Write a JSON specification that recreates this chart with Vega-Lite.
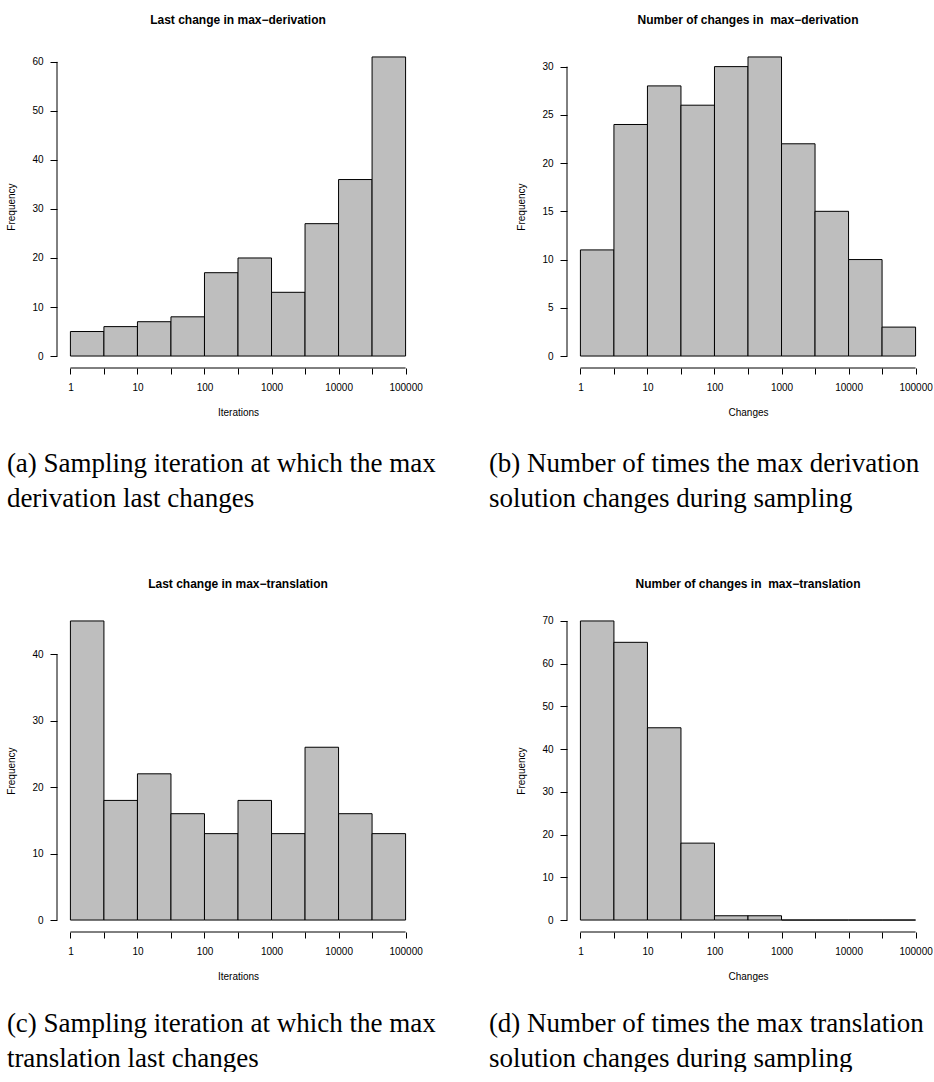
{
  "$schema": "https://vega.github.io/schema/vega-lite/v6.json",
  "background": "white",
  "padding": {"left": 6, "top": 14, "right": 0, "bottom": 0},
  "autosize": {"type": "pad"},
  "config": {
    "view": {"stroke": null},
    "font": "Liberation Sans",
    "axis": {
      "domain": false, "grid": false, "tickColor": "#000", "tickWidth": 1,
      "labelColor": "#000", "labelFont": "Liberation Sans", "labelFontSize": 10,
      "labelFlush": false, "labelOverlap": false,
      "titleColor": "#000", "titleFont": "Liberation Sans", "titleFontSize": 10, "titleFontWeight": "normal"
    },
    "axisX": {"tickSize": 6, "labelPadding": 8, "titlePadding": 15, "labelAngle": 0},
    "axisY": {"tickSize": 7, "labelPadding": 7, "titlePadding": 15, "labelAngle": 0},
    "title": {"font": "Liberation Sans", "fontSize": 12, "fontWeight": "bold", "color": "#000", "offset": 18, "anchor": "middle"}
  },
  "datasets": {
    "bins": [
      {"panel": "a", "lo": 1, "hi": 3.1623, "count": 5},
      {"panel": "a", "lo": 3.1623, "hi": 10, "count": 6},
      {"panel": "a", "lo": 10, "hi": 31.623, "count": 7},
      {"panel": "a", "lo": 31.623, "hi": 100, "count": 8},
      {"panel": "a", "lo": 100, "hi": 316.23, "count": 17},
      {"panel": "a", "lo": 316.23, "hi": 1000, "count": 20},
      {"panel": "a", "lo": 1000, "hi": 3162.3, "count": 13},
      {"panel": "a", "lo": 3162.3, "hi": 10000, "count": 27},
      {"panel": "a", "lo": 10000, "hi": 31623, "count": 36},
      {"panel": "a", "lo": 31623, "hi": 100000, "count": 61},
      {"panel": "b", "lo": 1, "hi": 3.1623, "count": 11},
      {"panel": "b", "lo": 3.1623, "hi": 10, "count": 24},
      {"panel": "b", "lo": 10, "hi": 31.623, "count": 28},
      {"panel": "b", "lo": 31.623, "hi": 100, "count": 26},
      {"panel": "b", "lo": 100, "hi": 316.23, "count": 30},
      {"panel": "b", "lo": 316.23, "hi": 1000, "count": 31},
      {"panel": "b", "lo": 1000, "hi": 3162.3, "count": 22},
      {"panel": "b", "lo": 3162.3, "hi": 10000, "count": 15},
      {"panel": "b", "lo": 10000, "hi": 31623, "count": 10},
      {"panel": "b", "lo": 31623, "hi": 100000, "count": 3},
      {"panel": "c", "lo": 1, "hi": 3.1623, "count": 45},
      {"panel": "c", "lo": 3.1623, "hi": 10, "count": 18},
      {"panel": "c", "lo": 10, "hi": 31.623, "count": 22},
      {"panel": "c", "lo": 31.623, "hi": 100, "count": 16},
      {"panel": "c", "lo": 100, "hi": 316.23, "count": 13},
      {"panel": "c", "lo": 316.23, "hi": 1000, "count": 18},
      {"panel": "c", "lo": 1000, "hi": 3162.3, "count": 13},
      {"panel": "c", "lo": 3162.3, "hi": 10000, "count": 26},
      {"panel": "c", "lo": 10000, "hi": 31623, "count": 16},
      {"panel": "c", "lo": 31623, "hi": 100000, "count": 13},
      {"panel": "d", "lo": 1, "hi": 3.1623, "count": 70},
      {"panel": "d", "lo": 3.1623, "hi": 10, "count": 65},
      {"panel": "d", "lo": 10, "hi": 31.623, "count": 45},
      {"panel": "d", "lo": 31.623, "hi": 100, "count": 18},
      {"panel": "d", "lo": 100, "hi": 316.23, "count": 1},
      {"panel": "d", "lo": 316.23, "hi": 1000, "count": 1},
      {"panel": "d", "lo": 1000, "hi": 3162.3, "count": 0},
      {"panel": "d", "lo": 3162.3, "hi": 10000, "count": 0},
      {"panel": "d", "lo": 10000, "hi": 31623, "count": 0},
      {"panel": "d", "lo": 31623, "hi": 100000, "count": 0}
    ],
    "one": [{}]
  },
  "vconcat": [
    {
      "hconcat": [
        {
          "title": {"text": ["(a) Sampling iteration at which the max", "derivation last changes"], "orient": "bottom", "anchor": "start", "frame": "bounds", "baseline": "top", "font": "Liberation Serif", "fontSize": 27, "fontWeight": "normal", "lineHeight": 35, "offset": 34, "color": "#000"},
          "vconcat": [
            {
              "width": 362, "height": 323,
              "title": "Last change in max−derivation",
              "layer": [
                {
                  "data": {"name": "bins"},
                  "transform": [{"filter": "datum.panel === 'a'"}],
                  "mark": {"type": "rect", "fill": "#bebebe", "stroke": "#000", "strokeWidth": 1},
                  "encoding": {
                    "x": {"field": "lo", "type": "quantitative", "scale": {"type": "log", "domain": [0.630957, 158489.3], "nice": false},
                      "axis": {"values": [1, 3.1623, 10, 31.623, 100, 316.23, 1000, 3162.3, 10000, 31623, 100000], "format": "d",
                        "labelExpr": "indexof([1,10,100,1000,10000,100000], datum.value) >= 0 ? datum.label : ''", "title": "Iterations"}},
                    "x2": {"field": "hi"},
                    "y": {"field": "count", "type": "quantitative", "scale": {"domain": [-2.44, 63.44], "nice": false, "zero": false},
                      "axis": {"values": [0, 10, 20, 30, 40, 50, 60], "title": "Frequency"}},
                    "y2": {"datum": 0}
                  }
                },
                {
                  "data": {"name": "one"},
                  "mark": {"type": "rule", "color": "#000", "strokeWidth": 1},
                  "encoding": {
                    "x": {"datum": 0.630957, "type": "quantitative"},
                    "y": {"datum": 0, "type": "quantitative"},
                    "y2": {"datum": 60}
                  }
                },
                {
                  "data": {"name": "one"},
                  "mark": {"type": "rule", "color": "#000", "strokeWidth": 1},
                  "encoding": {
                    "x": {"datum": 1, "type": "quantitative"},
                    "x2": {"datum": 100000},
                    "y": {"datum": -2.44, "type": "quantitative"}
                  }
                }
              ]
            }
          ]
        },
        {
          "title": {"text": ["(b) Number of times the max derivation", "solution changes during sampling"], "orient": "bottom", "anchor": "start", "frame": "bounds", "baseline": "top", "font": "Liberation Serif", "fontSize": 27, "fontWeight": "normal", "lineHeight": 35, "offset": 34, "dx": -28, "color": "#000"},
          "vconcat": [
            {
              "width": 362, "height": 323,
              "title": "Number of changes in \u00a0max−derivation",
              "layer": [
                {
                  "data": {"name": "bins"},
                  "transform": [{"filter": "datum.panel === 'b'"}],
                  "mark": {"type": "rect", "fill": "#bebebe", "stroke": "#000", "strokeWidth": 1},
                  "encoding": {
                    "x": {"field": "lo", "type": "quantitative", "scale": {"type": "log", "domain": [0.630957, 158489.3], "nice": false},
                      "axis": {"values": [1, 3.1623, 10, 31.623, 100, 316.23, 1000, 3162.3, 10000, 31623, 100000], "format": "d",
                        "labelExpr": "indexof([1,10,100,1000,10000,100000], datum.value) >= 0 ? datum.label : ''", "title": "Changes"}},
                    "x2": {"field": "hi"},
                    "y": {"field": "count", "type": "quantitative", "scale": {"domain": [-1.24, 32.24], "nice": false, "zero": false},
                      "axis": {"values": [0, 5, 10, 15, 20, 25, 30], "title": "Frequency"}},
                    "y2": {"datum": 0}
                  }
                },
                {
                  "data": {"name": "one"},
                  "mark": {"type": "rule", "color": "#000", "strokeWidth": 1},
                  "encoding": {
                    "x": {"datum": 0.630957, "type": "quantitative"},
                    "y": {"datum": 0, "type": "quantitative"},
                    "y2": {"datum": 30}
                  }
                },
                {
                  "data": {"name": "one"},
                  "mark": {"type": "rule", "color": "#000", "strokeWidth": 1},
                  "encoding": {
                    "x": {"datum": 1, "type": "quantitative"},
                    "x2": {"datum": 100000},
                    "y": {"datum": -1.24, "type": "quantitative"}
                  }
                }
              ]
            }
          ]
        }
      ],
      "spacing": 52
    },
    {
      "hconcat": [
        {
          "title": {"text": ["(c) Sampling iteration at which the max", "translation last changes"], "orient": "bottom", "anchor": "start", "frame": "bounds", "baseline": "top", "font": "Liberation Serif", "fontSize": 27, "fontWeight": "normal", "lineHeight": 35, "offset": 30, "color": "#000"},
          "vconcat": [
            {
              "width": 362, "height": 323,
              "title": "Last change in max−translation",
              "layer": [
                {
                  "data": {"name": "bins"},
                  "transform": [{"filter": "datum.panel === 'c'"}],
                  "mark": {"type": "rect", "fill": "#bebebe", "stroke": "#000", "strokeWidth": 1},
                  "encoding": {
                    "x": {"field": "lo", "type": "quantitative", "scale": {"type": "log", "domain": [0.630957, 158489.3], "nice": false},
                      "axis": {"values": [1, 3.1623, 10, 31.623, 100, 316.23, 1000, 3162.3, 10000, 31623, 100000], "format": "d",
                        "labelExpr": "indexof([1,10,100,1000,10000,100000], datum.value) >= 0 ? datum.label : ''", "title": "Iterations"}},
                    "x2": {"field": "hi"},
                    "y": {"field": "count", "type": "quantitative", "scale": {"domain": [-1.8, 46.8], "nice": false, "zero": false},
                      "axis": {"values": [0, 10, 20, 30, 40], "title": "Frequency"}},
                    "y2": {"datum": 0}
                  }
                },
                {
                  "data": {"name": "one"},
                  "mark": {"type": "rule", "color": "#000", "strokeWidth": 1},
                  "encoding": {
                    "x": {"datum": 0.630957, "type": "quantitative"},
                    "y": {"datum": 0, "type": "quantitative"},
                    "y2": {"datum": 40}
                  }
                },
                {
                  "data": {"name": "one"},
                  "mark": {"type": "rule", "color": "#000", "strokeWidth": 1},
                  "encoding": {
                    "x": {"datum": 1, "type": "quantitative"},
                    "x2": {"datum": 100000},
                    "y": {"datum": -1.8, "type": "quantitative"}
                  }
                }
              ]
            }
          ]
        },
        {
          "title": {"text": ["(d) Number of times the max translation", "solution changes during sampling"], "orient": "bottom", "anchor": "start", "frame": "bounds", "baseline": "top", "font": "Liberation Serif", "fontSize": 27, "fontWeight": "normal", "lineHeight": 35, "offset": 30, "dx": -28, "color": "#000"},
          "vconcat": [
            {
              "width": 362, "height": 323,
              "title": "Number of changes in \u00a0max−translation",
              "layer": [
                {
                  "data": {"name": "bins"},
                  "transform": [{"filter": "datum.panel === 'd'"}],
                  "mark": {"type": "rect", "fill": "#bebebe", "stroke": "#000", "strokeWidth": 1},
                  "encoding": {
                    "x": {"field": "lo", "type": "quantitative", "scale": {"type": "log", "domain": [0.630957, 158489.3], "nice": false},
                      "axis": {"values": [1, 3.1623, 10, 31.623, 100, 316.23, 1000, 3162.3, 10000, 31623, 100000], "format": "d",
                        "labelExpr": "indexof([1,10,100,1000,10000,100000], datum.value) >= 0 ? datum.label : ''", "title": "Changes"}},
                    "x2": {"field": "hi"},
                    "y": {"field": "count", "type": "quantitative", "scale": {"domain": [-2.8, 72.8], "nice": false, "zero": false},
                      "axis": {"values": [0, 10, 20, 30, 40, 50, 60, 70], "title": "Frequency"}},
                    "y2": {"datum": 0}
                  }
                },
                {
                  "data": {"name": "one"},
                  "mark": {"type": "rule", "color": "#000", "strokeWidth": 1},
                  "encoding": {
                    "x": {"datum": 0.630957, "type": "quantitative"},
                    "y": {"datum": 0, "type": "quantitative"},
                    "y2": {"datum": 70}
                  }
                },
                {
                  "data": {"name": "one"},
                  "mark": {"type": "rule", "color": "#000", "strokeWidth": 1},
                  "encoding": {
                    "x": {"datum": 1, "type": "quantitative"},
                    "x2": {"datum": 100000},
                    "y": {"datum": -2.8, "type": "quantitative"}
                  }
                }
              ]
            }
          ]
        }
      ],
      "spacing": 52
    }
  ],
  "spacing": 66
}
